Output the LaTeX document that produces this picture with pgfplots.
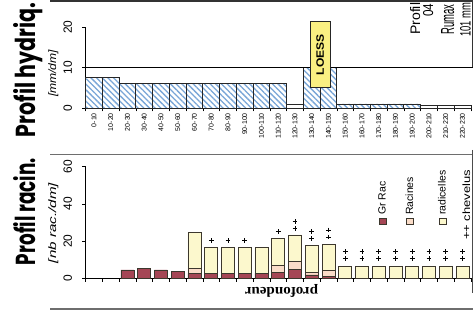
\documentclass[border=0pt]{standalone}
\usepackage{pgfplots}
\pgfplotsset{compat=1.18}
\usepackage{pgfplotstable}
\usepackage{fontspec}
\setmainfont{Liberation Sans}
\newfontfamily\titlefont{Poppins}
\newfontfamily\seriffont{Liberation Serif}
\usetikzlibrary{patterns.meta}
\definecolor{hatch}{RGB}{120,165,215}
\definecolor{grrac}{RGB}{165,70,85}
\definecolor{racines}{RGB}{250,220,200}
\definecolor{radic}{RGB}{252,248,205}
\definecolor{loess}{RGB}{250,240,130}
\definecolor{barline}{RGB}{60,55,45}
\definecolor{framec}{RGB}{110,110,110}

% Profil hydrique (mm/dm), hatched bars
\pgfplotstableread{
i v
0 7.5
1 7.5
2 6
3 6
4 6
5 6
6 6
7 6
8 6
9 6
10 6
11 6
13 10
14 10
15 1
16 1
17 1
18 1
19 1
}\hydriq
% Profil hydrique, white (unhatched) bars
\pgfplotstableread{
i v
12 0.9
20 0.75
21 0.75
22 0.75
}\hydriqw
% Profil racinaire (nb rac./dm)
\pgfplotstableread{
i grrac racines radic
0 0 0 0
1 0 0 0
2 4.5 0 0
3 5.5 0 0
4 4.5 0 0
5 3.9 0 0
6 2.7 2.7 19.1
7 2.7 0 13.8
8 2.7 0 13.8
9 2.7 0 13.8
10 2.7 0 13.8
11 3.0 4.15 14.35
12 4.8 4.5 14
13 1.8 1.2 14.5
14 0.8 3.6 13.9
15 0 0 6.2
16 0 0 6.2
17 0 0 6.2
18 0 0 6.2
19 0 0 6.2
20 0 0 6.2
21 0 0 6.2
22 0 0 6.2
}\racin
% chevelus markers
\pgfplotstableread{
i y
7 20.2
8 20.2
9 20.2
11 25
12 26.9
12 30.4
13 21.5
13 25
14 22.2
14 26
15 10.75
15 14.3
16 10.75
16 14.3
17 10.75
17 14.3
18 10.75
18 14.3
19 10.75
19 14.3
20 10.75
20 14.3
21 10.75
21 14.3
22 10.75
22 14.3
}\chev

\begin{document}
\begin{tikzpicture}
\useasboundingbox (0,0) rectangle (473bp,315bp);
\clip (0,0) rectangle (473bp,315bp);
\fill[white] (0,0) rectangle (473bp,315bp);

% frame lines
\draw[black!80, line width=2.5bp] (50bp,314bp) -- (473bp,314bp);
\draw[framec, line width=1bp] (50bp,160bp) -- (473bp,160bp);
\draw[framec, line width=1.2bp] (50bp,6bp) -- (473bp,6bp);
\draw[black!80, line width=0.8bp] (472.5bp,315bp) -- (472.5bp,247bp);
\draw[black!70, line width=0.8bp] (472bp,165bp) -- (472bp,22bp);

% panel titles
\node[rotate=90, anchor=base, inner sep=0pt] at (35bp,245bp) {\resizebox{134bp}{22bp}{\titlefont\bfseries Profil hydriq.}};
\node[rotate=90, anchor=base, inner sep=0pt] at (56bp,241.5bp) {\resizebox{47bp}{7.8bp}{\itshape [mm/dm]}};
\node[rotate=90, anchor=base, inner sep=0pt] at (35bp,103.5bp) {\resizebox{107bp}{22bp}{\titlefont\bfseries Profil racin.}};
\node[rotate=90, anchor=base, inner sep=0pt] at (56bp,92bp) {\resizebox{80bp}{7.8bp}{\itshape [nb rac./dm]}};

% top-right text
\node[rotate=90, anchor=base west, inner sep=0pt] at (420bp,280bp) {\resizebox{32bp}{10bp}{Profil}};
\node[rotate=90, anchor=base west, inner sep=0pt] at (433bp,298bp) {\resizebox{13bp}{10bp}{04}};
\node[rotate=90, anchor=base west, inner sep=0pt] at (454bp,280bp) {\resizebox{30bp}{13bp}{Rumax}};
\node[rotate=90, anchor=base west, inner sep=0pt] at (470.5bp,278bp) {\resizebox{34bp}{10.5bp}{101 mm}};

% upside-down label
\node[rotate=180, anchor=base, inner sep=0pt] at (281.5bp,28bp) {\resizebox{73bp}{10bp}{\seriffont\bfseries profondeur}};

% legend of bottom panel
\draw[barline, fill=grrac, line width=0.6bp] (379.2bp,90.2bp) rectangle ++(6.6bp,6.6bp);
\draw[barline, fill=racines, line width=0.6bp] (406.7bp,90.2bp) rectangle ++(6.6bp,6.6bp);
\draw[barline, fill=radic, line width=0.6bp] (439.2bp,90.2bp) rectangle ++(6.6bp,6.6bp);
\node[rotate=90, anchor=base west, inner sep=0pt, font=\fontsize{10.5}{12}\selectfont] at (385.5bp,100bp) {Gr Rac};
\node[rotate=90, anchor=base west, inner sep=0pt, font=\fontsize{10.5}{12}\selectfont] at (413bp,100bp) {Racines};
\node[rotate=90, anchor=base west, inner sep=0pt, font=\fontsize{10.5}{12}\selectfont] at (445.5bp,100bp) {radicelles};
\node[rotate=90, anchor=base west, inner sep=0pt] at (470bp,75bp) {\resizebox{70bp}{7.6bp}{++ chevelus}};

% ---------- top panel ----------
\begin{axis}[
  at={(85.6bp,207bp)}, anchor=south west,
  scale only axis, width=385.3bp, height=80.7bp,
  xmin=-0.5, xmax=22.5, ymin=0, ymax=20,
  axis x line=bottom, axis y line=left,
  axis line style={-, black, line width=0.8bp},
  ytick={0,10,20}, yticklabels={0,10,20},
  yticklabel style={font=\fontsize{12}{12}\selectfont, rotate=90, anchor=south, inner sep=0pt},
  yticklabel shift=10bp,
  xtick={-0.5,0.5,...,22.5}, xticklabels={},
  extra x ticks={0,1,...,22},
  extra x tick labels={0-10,10-20,20-30,30-40,40-50,50-60,60-70,70-80,80-90,90-100,100-110,110-120,120-130,130-140,140-150,150-160,160-170,170-180,180-190,190-200,200-210,210-220,220-230},
  extra x tick style={major tick length=0pt, xticklabel style={font=\fontsize{7}{7}\selectfont, rotate=90, anchor=east, inner sep=0pt}, xticklabel shift=5bp},
  tick align=outside, major tick length=3.5bp,
  tick style={black, line width=0.7bp},
  clip=false,
]
\addplot[ybar, bar width=16.75bp, bar shift=0pt, draw=black!85, line width=0.8bp,
  pattern={Lines[angle=-45, distance=4bp, line width=1.3bp]}, pattern color=hatch]
  table[x=i, y=v]{\hydriq};
\addplot[ybar, bar width=16.75bp, bar shift=0pt, draw=black!85, line width=0.8bp, fill=white]
  table[x=i, y=v]{\hydriqw};
\draw[black, line width=0.8bp] (axis cs:-0.5,10) -- (axis cs:22.6,10);
\node[rotate=90, draw=black!85, fill=loess, line width=0.7bp, minimum width=66bp, minimum height=20bp, inner sep=0pt]
  at (axis cs:13.5,13.2) {\resizebox{41bp}{7.5bp}{\bfseries LOESS}};
\end{axis}

% ---------- bottom panel ----------
\begin{axis}[
  at={(85.6bp,36.7bp)}, anchor=south west,
  scale only axis, width=385.3bp, height=111.6bp,
  xmin=-0.5, xmax=22.5, ymin=0, ymax=60,
  axis x line=bottom, axis y line=left,
  axis line style={-, black, line width=0.8bp},
  ytick={0,20,40,60}, yticklabels={0,20,40,60},
  yticklabel style={font=\fontsize{12}{12}\selectfont, rotate=90, anchor=south, inner sep=0pt},
  yticklabel shift=10bp,
  xtick={-0.5,0.5,...,22.5}, xticklabels={},
  tick align=outside, major tick length=3.5bp,
  tick style={black, line width=0.7bp},
  ybar stacked, bar width=13bp,
  clip=false,
]
\addplot[fill=grrac, draw=barline, line width=0.8bp] table[x=i, y=grrac]{\racin};
\addplot[fill=racines, draw=barline, line width=0.8bp] table[x=i, y=racines]{\racin};
\addplot[fill=radic, draw=barline, line width=0.8bp] table[x=i, y=radic]{\racin};
\end{axis}

% chevelus markers (same geometry as bottom panel)
\begin{axis}[
  at={(85.6bp,36.7bp)}, anchor=south west,
  scale only axis, width=385.3bp, height=111.6bp,
  xmin=-0.5, xmax=22.5, ymin=0, ymax=60,
  hide axis, clip=false,
]
\addplot[only marks, mark=+, mark size=2.3bp, black, line width=0.8bp] table[x=i, y=y]{\chev};
\end{axis}
\end{tikzpicture}
\end{document}
